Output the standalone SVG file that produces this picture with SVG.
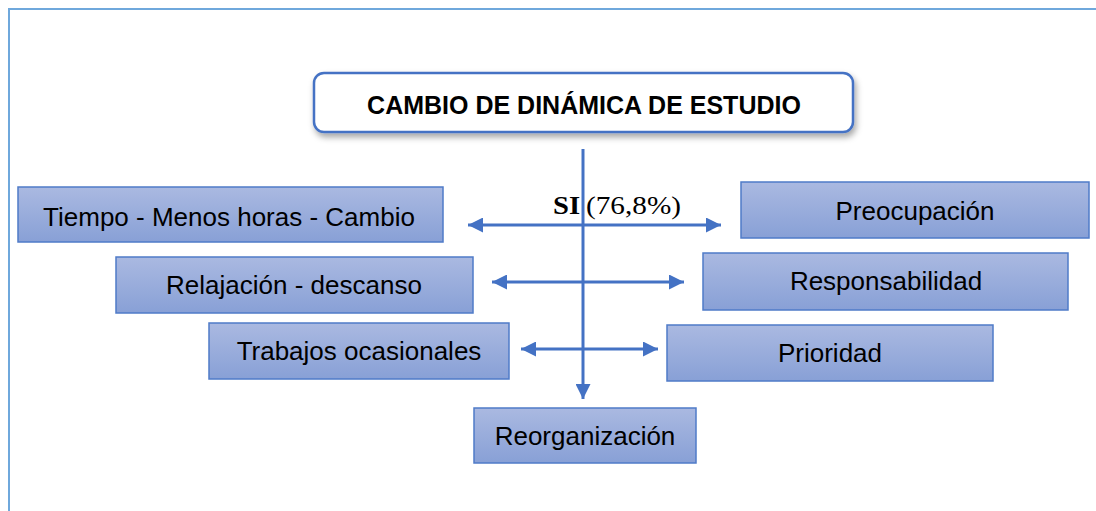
<svg xmlns="http://www.w3.org/2000/svg" width="1096" height="511" viewBox="0 0 1096 511">
<defs>
<linearGradient id="g" x1="0" y1="0" x2="0" y2="1">
<stop offset="0" stop-color="#aab9e1"/>
<stop offset="1" stop-color="#88a0d6"/>
</linearGradient>
<filter id="sh" x="-10%" y="-30%" width="120%" height="170%">
<feDropShadow dx="2" dy="4" stdDeviation="3" flood-color="#000" flood-opacity="0.35"/>
</filter>
<marker id="ah" viewBox="0 0 10 10" refX="10" refY="5" markerWidth="5" markerHeight="5" orient="auto-start-reverse" markerUnits="strokeWidth">
<path d="M0,0 L10,5 L0,10 Z" fill="#4472c4"/>
</marker>
<style>
.box{fill:url(#g);stroke:#4f7bc8;stroke-width:1.5}
.t{font-family:"Liberation Sans",Arial,sans-serif;font-size:26px;fill:#000;text-anchor:middle}
.c{stroke:#4472c4;stroke-width:3;fill:none}
</style>
</defs>
<path d="M9,511 V9 H1096" fill="none" stroke="#6fa8dc" stroke-width="2"/>
<g id="title">
<rect x="314" y="73" width="539" height="59" rx="10" fill="#fff" stroke="#4472c4" stroke-width="2.5" filter="url(#sh)"/>
<text x="584" y="114" font-family="'Liberation Sans',Arial,sans-serif" font-weight="bold" font-size="25" text-anchor="middle">CAMBIO DE DINÁMICA DE ESTUDIO</text>
</g>
<g id="connectors">
<line class="c" x1="583" y1="149" x2="583" y2="399" marker-end="url(#ah)"/>
<line class="c" x1="468" y1="225" x2="721" y2="225" marker-start="url(#ah)" marker-end="url(#ah)"/>
<line class="c" x1="492" y1="282" x2="684" y2="282" marker-start="url(#ah)" marker-end="url(#ah)"/>
<line class="c" x1="521" y1="349" x2="658" y2="349" marker-start="url(#ah)" marker-end="url(#ah)"/>
</g>
<g id="label-si">
<text y="214" font-family="'Liberation Serif','Times New Roman',serif" font-size="26"><tspan x="553" font-weight="bold" textLength="27" lengthAdjust="spacingAndGlyphs">SI</tspan><tspan x="586" textLength="95" lengthAdjust="spacingAndGlyphs">(76,8%)</tspan></text>
</g>
<g id="n-tiempo"><rect class="box" x="18" y="187" width="425" height="55"/><text class="t" x="229" y="226">Tiempo - Menos horas - Cambio</text></g>
<g id="n-preocupacion"><rect class="box" x="741" y="182" width="348" height="56"/><text class="t" x="915" y="220">Preocupación</text></g>
<g id="n-relajacion"><rect class="box" x="116" y="257" width="357" height="56"/><text class="t" x="294" y="294">Relajación - descanso</text></g>
<g id="n-responsabilidad"><rect class="box" x="703" y="253" width="365" height="57"/><text class="t" x="886" y="290">Responsabilidad</text></g>
<g id="n-trabajos"><rect class="box" x="209" y="323" width="300" height="56"/><text class="t" x="359" y="360">Trabajos ocasionales</text></g>
<g id="n-prioridad"><rect class="box" x="667" y="325" width="326" height="56"/><text class="t" x="830" y="362">Prioridad</text></g>
<g id="n-reorganizacion"><rect class="box" x="474" y="408" width="222" height="55"/><text class="t" x="585" y="445">Reorganización</text></g>
</svg>
